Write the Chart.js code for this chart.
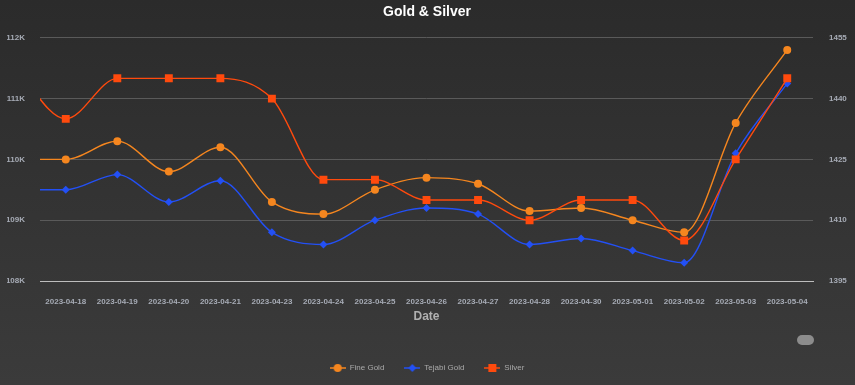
<!DOCTYPE html>
<html>
<head>
<meta charset="utf-8">
<title>Gold & Silver</title>
<script src="https://cdn.jsdelivr.net/npm/chart.js@4.4.0/dist/chart.umd.min.js"></script>
<style>
  html, body { margin: 0; padding: 0; background: #333; }
  #wrap { position: relative; width: 855px; height: 385px; background: linear-gradient(#2b2b2b, #3b3b3b); }
  #pill { position: absolute; left: 797px; top: 335px; width: 17px; height: 10px; border-radius: 5px; background: #8c8c8c; }
</style>
</head>
<body>
<div id="wrap">
  <canvas id="goldChart"></canvas>
  <div id="pill"></div>
</div>
<script>
// first entry is the day before the shown range, only its line piece is visible
const dates = ['2023-04-17', '2023-04-18', '2023-04-19', '2023-04-20', '2023-04-21', '2023-04-23',
  '2023-04-24', '2023-04-25', '2023-04-26', '2023-04-27', '2023-04-28', '2023-04-30',
  '2023-05-01', '2023-05-02', '2023-05-03', '2023-05-04'];
const fineGold = [110000, 110000, 110300, 109800, 110200, 109300, 109100, 109500, 109700, 109600,
  109150, 109200, 109000, 108800, 110600, 111800];
const tejabiGold = [109500, 109500, 109750, 109300, 109650, 108800, 108600, 109000, 109200, 109100,
  108600, 108700, 108500, 108300, 110100, 111250];
const silver = [1448, 1435, 1445, 1445, 1445, 1440, 1420, 1420, 1415, 1415,
  1410, 1415, 1415, 1405, 1425, 1445];

const FONT = 'Liberation Sans, Arial, sans-serif';
const tickColor = '#a6abb5';

function legendIcon(color, shape) {
  const c = document.createElement('canvas');
  c.width = 16; c.height = 10;
  const g = c.getContext('2d');
  g.strokeStyle = color; g.fillStyle = color; g.lineWidth = 1.5;
  g.beginPath(); g.moveTo(0, 5); g.lineTo(16, 5); g.stroke();
  g.beginPath();
  if (shape === 'circle') g.arc(8, 5, 4, 0, Math.PI * 2);
  else if (shape === 'diamond') { g.moveTo(8, 1); g.lineTo(12, 5); g.lineTo(8, 9); g.lineTo(4, 5); g.closePath(); }
  else g.rect(4, 1, 8, 8);
  g.fill();
  return c;
}
const icons = [
  legendIcon('#f5861f', 'circle'),
  legendIcon('#2350f5', 'diamond'),
  legendIcon('#ff4a0d', 'square')
];

new Chart(document.getElementById('goldChart'), {
  type: 'line',
  data: {
    labels: dates,
    datasets: [{
      label: 'Fine Gold',
      data: fineGold,
      yAxisID: 'y',
      borderColor: '#f5861f',
      backgroundColor: '#f5861f',
      pointStyle: 'circle',
      pointRadius: 4,
      order: 1
    }, {
      label: 'Tejabi Gold',
      data: tejabiGold,
      yAxisID: 'y',
      borderColor: '#2350f5',
      backgroundColor: '#2350f5',
      pointStyle: 'rectRot',
      pointRadius: 4,
      order: 2
    }, {
      label: 'Silver',
      data: silver,
      yAxisID: 'y1',
      borderColor: '#ff4a0d',
      backgroundColor: '#ff4a0d',
      pointStyle: 'rect',
      pointRadius: 5.6,
      order: 0
    }]
  },
  options: {
    responsive: true,
    maintainAspectRatio: false,
    animation: false,
    layout: { padding: { left: 7, right: 8, top: 0, bottom: 3 } },
    datasets: {
      line: { borderWidth: 1.4, cubicInterpolationMode: 'monotone', pointBorderWidth: 0, clip: 0 }
    },
    plugins: {
      title: {
        display: true,
        text: 'Gold & Silver',
        color: '#ffffff',
        font: { family: FONT, size: 14, weight: 'bold' },
        padding: { top: 4, bottom: 17 }
      },
      legend: {
        position: 'bottom',
        labels: {
          usePointStyle: true,
          pointStyleWidth: 16,
          padding: 20,
          color: '#aaaaaa',
          font: { family: FONT, size: 8 },
          generateLabels(chart) {
            const items = Chart.defaults.plugins.legend.labels.generateLabels(chart);
            items.sort((a, b) => a.datasetIndex - b.datasetIndex);
            items.forEach(it => { it.pointStyle = icons[it.datasetIndex]; });
            return items;
          }
        }
      },
      tooltip: { enabled: false }
    },
    scales: {
      x: {
        min: '2023-04-18',
        offset: true,
        grid: { display: false, drawTicks: false },
        border: { color: '#bdbdbd' },
        ticks: {
          color: tickColor, padding: 16, maxRotation: 0, autoSkip: false,
          font: { family: FONT, size: 8, weight: 'bold' }
        },
        title: {
          display: true, text: 'Date', color: '#b0b0b0',
          font: { family: FONT, size: 12, weight: 'bold' },
          padding: { top: 3, bottom: 20 }
        },
        afterFit: s => { s.height = 63; }
      },
      y: {
        position: 'left',
        min: 108000, max: 112000,
        grid: { color: '#5a5a5a', drawTicks: false },
        border: { display: false },
        ticks: {
          stepSize: 1000, color: tickColor, padding: 15,
          font: { family: FONT, size: 8, weight: 'bold' },
          callback: v => (v / 1000) + 'K'
        },
        afterFit: s => { s.width = 33; }
      },
      y1: {
        position: 'right',
        min: 1395, max: 1455,
        grid: { drawOnChartArea: false, drawTicks: false },
        border: { display: false },
        ticks: {
          stepSize: 15, color: tickColor, padding: 16,
          font: { family: FONT, size: 8, weight: 'bold' },
          callback: v => String(v)
        },
        afterFit: s => { s.width = 34; }
      }
    }
  }
});
</script>
</body>
</html>
